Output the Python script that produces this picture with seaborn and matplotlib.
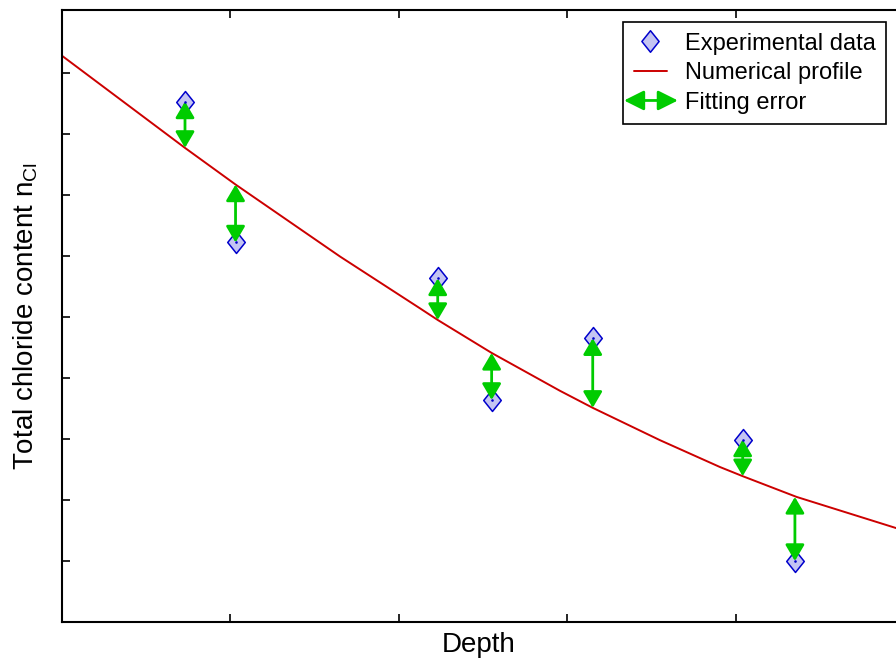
import pandas as pd
import matplotlib
matplotlib.use("Agg")
import matplotlib.pyplot as plt
import seaborn as sns
from matplotlib.patches import FancyArrowPatch
from matplotlib.legend_handler import HandlerPatch
from matplotlib.lines import Line2D
from matplotlib.path import Path

# measured points
depth = [0.73, 1.03, 2.23, 2.55, 3.15, 4.04, 4.35]
chloride = [8.53, 6.22, 5.63, 3.64, 4.65, 2.99, 1.00]
# numerical profile value at each measured depth
fitted = [7.77, 7.17, 4.95, 4.41, 3.51, 2.39, 2.05]

# numerical profile curve
curve_x = [0.0, 0.73, 1.03, 1.65, 2.125, 2.23, 2.55, 2.955, 3.15, 3.549, 3.905, 4.04, 4.36, 4.95]
curve_y = [9.28, 7.77, 7.17, 5.99, 5.14, 4.95, 4.41, 3.79, 3.51, 2.98, 2.54, 2.39, 2.05, 1.54]

x_ticks = [1, 2, 3, 4]
y_ticks = [1, 2, 3, 4, 5, 6, 7, 8, 9]

sns.set_style("ticks")
plt.rcParams["font.family"] = ["Liberation Sans", "DejaVu Sans"]
plt.rcParams["mathtext.fontset"] = "custom"
plt.rcParams["mathtext.rm"] = "Liberation Sans"
plt.rcParams["text.color"] = "black"
plt.rcParams["axes.labelcolor"] = "black"

fig = plt.figure(figsize=(8.96, 6.59), dpi=100)
ax = fig.add_axes([62 / 896, 1 - 622 / 659, 1 - 62 / 896, (622 - 10) / 659])

pts = pd.DataFrame({"depth": depth, "chloride": chloride})
prof = pd.DataFrame({"x": curve_x, "y": curve_y})

sns.lineplot(data=prof, x="x", y="y", color="#cc0000", lw=1.4, ax=ax, zorder=2)

green = "#00cc00"
astyle = "<|-|>,head_length=0.85,head_width=0.5"
for x, y0, y1 in zip(depth, chloride, fitted):
    ax.add_patch(FancyArrowPatch((x, y0), (x, y1), arrowstyle=astyle, mutation_scale=11.5,
                                 color=green, lw=2.0, shrinkA=0, shrinkB=0, zorder=4))

diamond = Path([(0, 1), (0.8, 0), (0, -1), (-0.8, 0), (0, 1)],
               [Path.MOVETO, Path.LINETO, Path.LINETO, Path.LINETO, Path.CLOSEPOLY])
sns.scatterplot(data=pts, x="depth", y="chloride", marker=diamond, s=250,
                facecolor="#c4c4f2", edgecolor="#0000cc", linewidth=1.1, ax=ax, zorder=3)
ax.scatter(depth, chloride, marker=".", s=3, color="#0000cc", zorder=5)

ax.set_xlim(0, 4.95)
ax.set_ylim(0, 10.03)
ax.set_xticks(x_ticks)
ax.set_yticks(y_ticks)
ax.set_xticklabels([])
ax.set_yticklabels([])
ax.tick_params(direction="in", length=6, width=1.2, top=True, right=False, color="black")
for side in ["left", "bottom", "top"]:
    ax.spines[side].set_linewidth(1.5)
    ax.spines[side].set_color("black")
ax.spines["right"].set_visible(False)

ax.set_xlabel("Depth", fontsize=20, labelpad=4)
ax.set_ylabel(r"Total chloride content $\mathregular{n_{Cl}}$", fontsize=20, labelpad=12)


class HandlerArrow(HandlerPatch):
    def create_artists(self, legend, orig_handle, xdescent, ydescent, width, height, fontsize, trans):
        y = height / 2 - ydescent
        p = FancyArrowPatch((-xdescent - 7, y), (width - xdescent + 8, y),
                            arrowstyle="<|-|>,head_length=1.0,head_width=0.5",
                            mutation_scale=12, color=green, lw=2.0, shrinkA=0, shrinkB=0)
        p.set_transform(trans)
        return [p]


h_pts = Line2D([], [], marker=diamond, ls="none", markersize=15.5, markerfacecolor="#c4c4f2",
               markeredgecolor="#0000cc", markeredgewidth=1.1)
h_line = Line2D([], [], color="#cc0000", lw=1.4)
h_arr = FancyArrowPatch((0, 0), (1, 0))
leg = fig.legend([h_pts, h_line, h_arr], ["Experimental data", "Numerical profile", "Fitting error"],
                 handler_map={FancyArrowPatch: HandlerArrow()},
                 loc="upper right", bbox_to_anchor=(886 / 896, 1 - 22 / 659), fontsize=17,
                 fancybox=False, edgecolor="black", framealpha=1, borderpad=0.45,
                 labelspacing=0.32, handlelength=1.4, handletextpad=0.75, borderaxespad=0)
leg.get_frame().set_linewidth(1.2)

fig.savefig("out.png", dpi=100)
